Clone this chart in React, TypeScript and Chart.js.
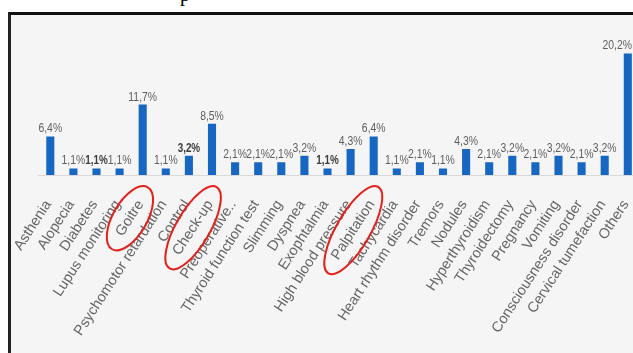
import React, { useEffect, useRef } from "react";
import { Chart, registerables } from "chart.js";

Chart.register(...registerables);

const categories = [
  "Asthenia",
  "Alopecia",
  "Diabetes",
  "Lupus monitoring",
  "Goitre",
  "Psychomotor retardation",
  "Control",
  "Check-up",
  "Preoperative..",
  "Thyroid function test",
  "Slimming",
  "Dyspnea",
  "Exophtalmia",
  "High blood pressure",
  "Palpitation",
  "Tachycardia",
  "Heart rhythm disorder",
  "Tremors",
  "Nodules",
  "Hyperthyroidism",
  "Thyroidectomy",
  "Pregnancy",
  "Vomiting",
  "Consciousness disorder",
  "Cervical tumefaction",
  "Others",
];

const percentages = [
  6.4, 1.1, 1.1, 1.1, 11.7, 1.1, 3.2, 8.5, 2.1, 2.1, 2.1, 3.2, 1.1, 4.3, 6.4,
  1.1, 2.1, 1.1, 4.3, 2.1, 3.2, 2.1, 3.2, 2.1, 3.2, 20.2,
];

const boldLabels = ["Diabetes", "Control", "Exophtalmia"];
const circledLabels = ["Goitre", "Check-up", "Palpitation"];

const Y_MAX = 25;
const ROT_DEG = 57;
const TICK_PAD = 22;
const LABEL_OFFSET = -2;
const TICK_FONT_SIZE = 14.5;
const TICK_FONT_FAMILY = '"Liberation Sans", Arial, sans-serif';
const CANVAS_LEFT = 11;
const VIEW_RIGHT = 633;

const fmt = (v: number) => v.toFixed(1).replace(".", ",") + "%";

const valueLabelPlugin = {
  id: "valueLabels",
  afterDatasetsDraw(chart: any) {
    const ctx = chart.ctx;
    const meta = chart.getDatasetMeta(0);
    meta.data.forEach((bar: any, i: number) => {
      const bold = boldLabels.includes(categories[i]);
      const sx = bold ? 0.76 : 0.8;
      const text = fmt(percentages[i]);
      ctx.save();
      ctx.font = `${bold ? "bold " : ""}13px "Liberation Sans", Arial, sans-serif`;
      ctx.fillStyle = bold ? "#3c3c3c" : "#5e5e5e";
      ctx.textAlign = "center";
      ctx.textBaseline = "alphabetic";
      const half = (ctx.measureText(text).width * sx) / 2;
      const maxX = VIEW_RIGHT - CANVAS_LEFT - 1 - half;
      ctx.translate(Math.min(bar.x, maxX), bar.y - 4);
      ctx.scale(sx, 1);
      ctx.fillText(text, 0, 0);
      ctx.restore();
    });
  },
};

const circlePlugin = {
  id: "handCircles",
  afterDraw(chart: any) {
    const ctx = chart.ctx;
    const xs = chart.scales.x;
    const th = (ROT_DEG * Math.PI) / 180;
    ctx.save();
    ctx.font = `${TICK_FONT_SIZE}px ${TICK_FONT_FAMILY}`;
    ctx.strokeStyle = "#e3211c";
    ctx.lineWidth = 2;
    circledLabels.forEach((name) => {
      const i = categories.indexOf(name);
      const w = ctx.measureText(name).width;
      const endX = xs.getPixelForTick(i) + LABEL_OFFSET;
      const endY = xs.top + TICK_PAD + ((TICK_FONT_SIZE * 1.2) / 2) * Math.cos(th);
      const cx = endX - (w / 2) * Math.cos(th);
      const cy = endY + (w / 2) * Math.sin(th);
      ctx.beginPath();
      ctx.ellipse(cx, cy, w / 2 + 16, 17, (-60 * Math.PI) / 180, 0, Math.PI * 2);
      ctx.stroke();
    });
    ctx.restore();
  },
};

export default function App() {
  const ref = useRef<HTMLCanvasElement | null>(null);

  useEffect(() => {
    if (!ref.current) return;
    const chart = new Chart(ref.current, {
      type: "bar",
      data: {
        labels: categories,
        datasets: [
          {
            data: percentages,
            backgroundColor: "#1767c2",
            barPercentage: 0.35,
            categoryPercentage: 1,
          },
        ],
      },
      options: {
        responsive: false,
        animation: false,
        devicePixelRatio: 1,
        layout: { padding: { left: 27.75, right: 11.65, top: 9.5, bottom: 0 } },
        plugins: { legend: { display: false }, tooltip: { enabled: false } },
        scales: {
          x: {
            grid: { display: false, drawTicks: false },
            border: { display: true, color: "#d9d9d9", width: 1 },
            ticks: {
              autoSkip: false,
              minRotation: ROT_DEG,
              maxRotation: ROT_DEG,
              padding: TICK_PAD,
              labelOffset: LABEL_OFFSET,
              color: "#666666",
              font: { size: TICK_FONT_SIZE, family: TICK_FONT_FAMILY },
            },
            afterFit: (scale: any) => {
              scale.height = 178;
              scale.paddingLeft = 0;
              scale.paddingRight = 0;
            },
          },
          y: {
            display: false,
            min: 0,
            max: Y_MAX,
          },
        },
      },
      plugins: [valueLabelPlugin, circlePlugin],
    });
    return () => chart.destroy();
  }, []);

  return (
    <div style={{ position: "fixed", inset: 0, overflow: "hidden", background: "#ffffff" }}>
      <span
        style={{
          position: "absolute",
          left: 180,
          top: -16.5,
          fontFamily: '"Liberation Serif", "Times New Roman", serif',
          fontSize: 20,
          lineHeight: "20px",
          color: "#000",
        }}
      >
        p
      </span>
      <div
        style={{
          position: "absolute",
          left: 8,
          top: 12,
          width: 660,
          height: 360,
          borderTop: "3px solid #111",
          borderLeft: "3px solid #222",
          background: "#f5f5f5",
          boxSizing: "border-box",
        }}
      >
        <canvas ref={ref} width={640} height={338} style={{ display: "block", width: 640, height: 338 }} />
      </div>
    </div>
  );
}
